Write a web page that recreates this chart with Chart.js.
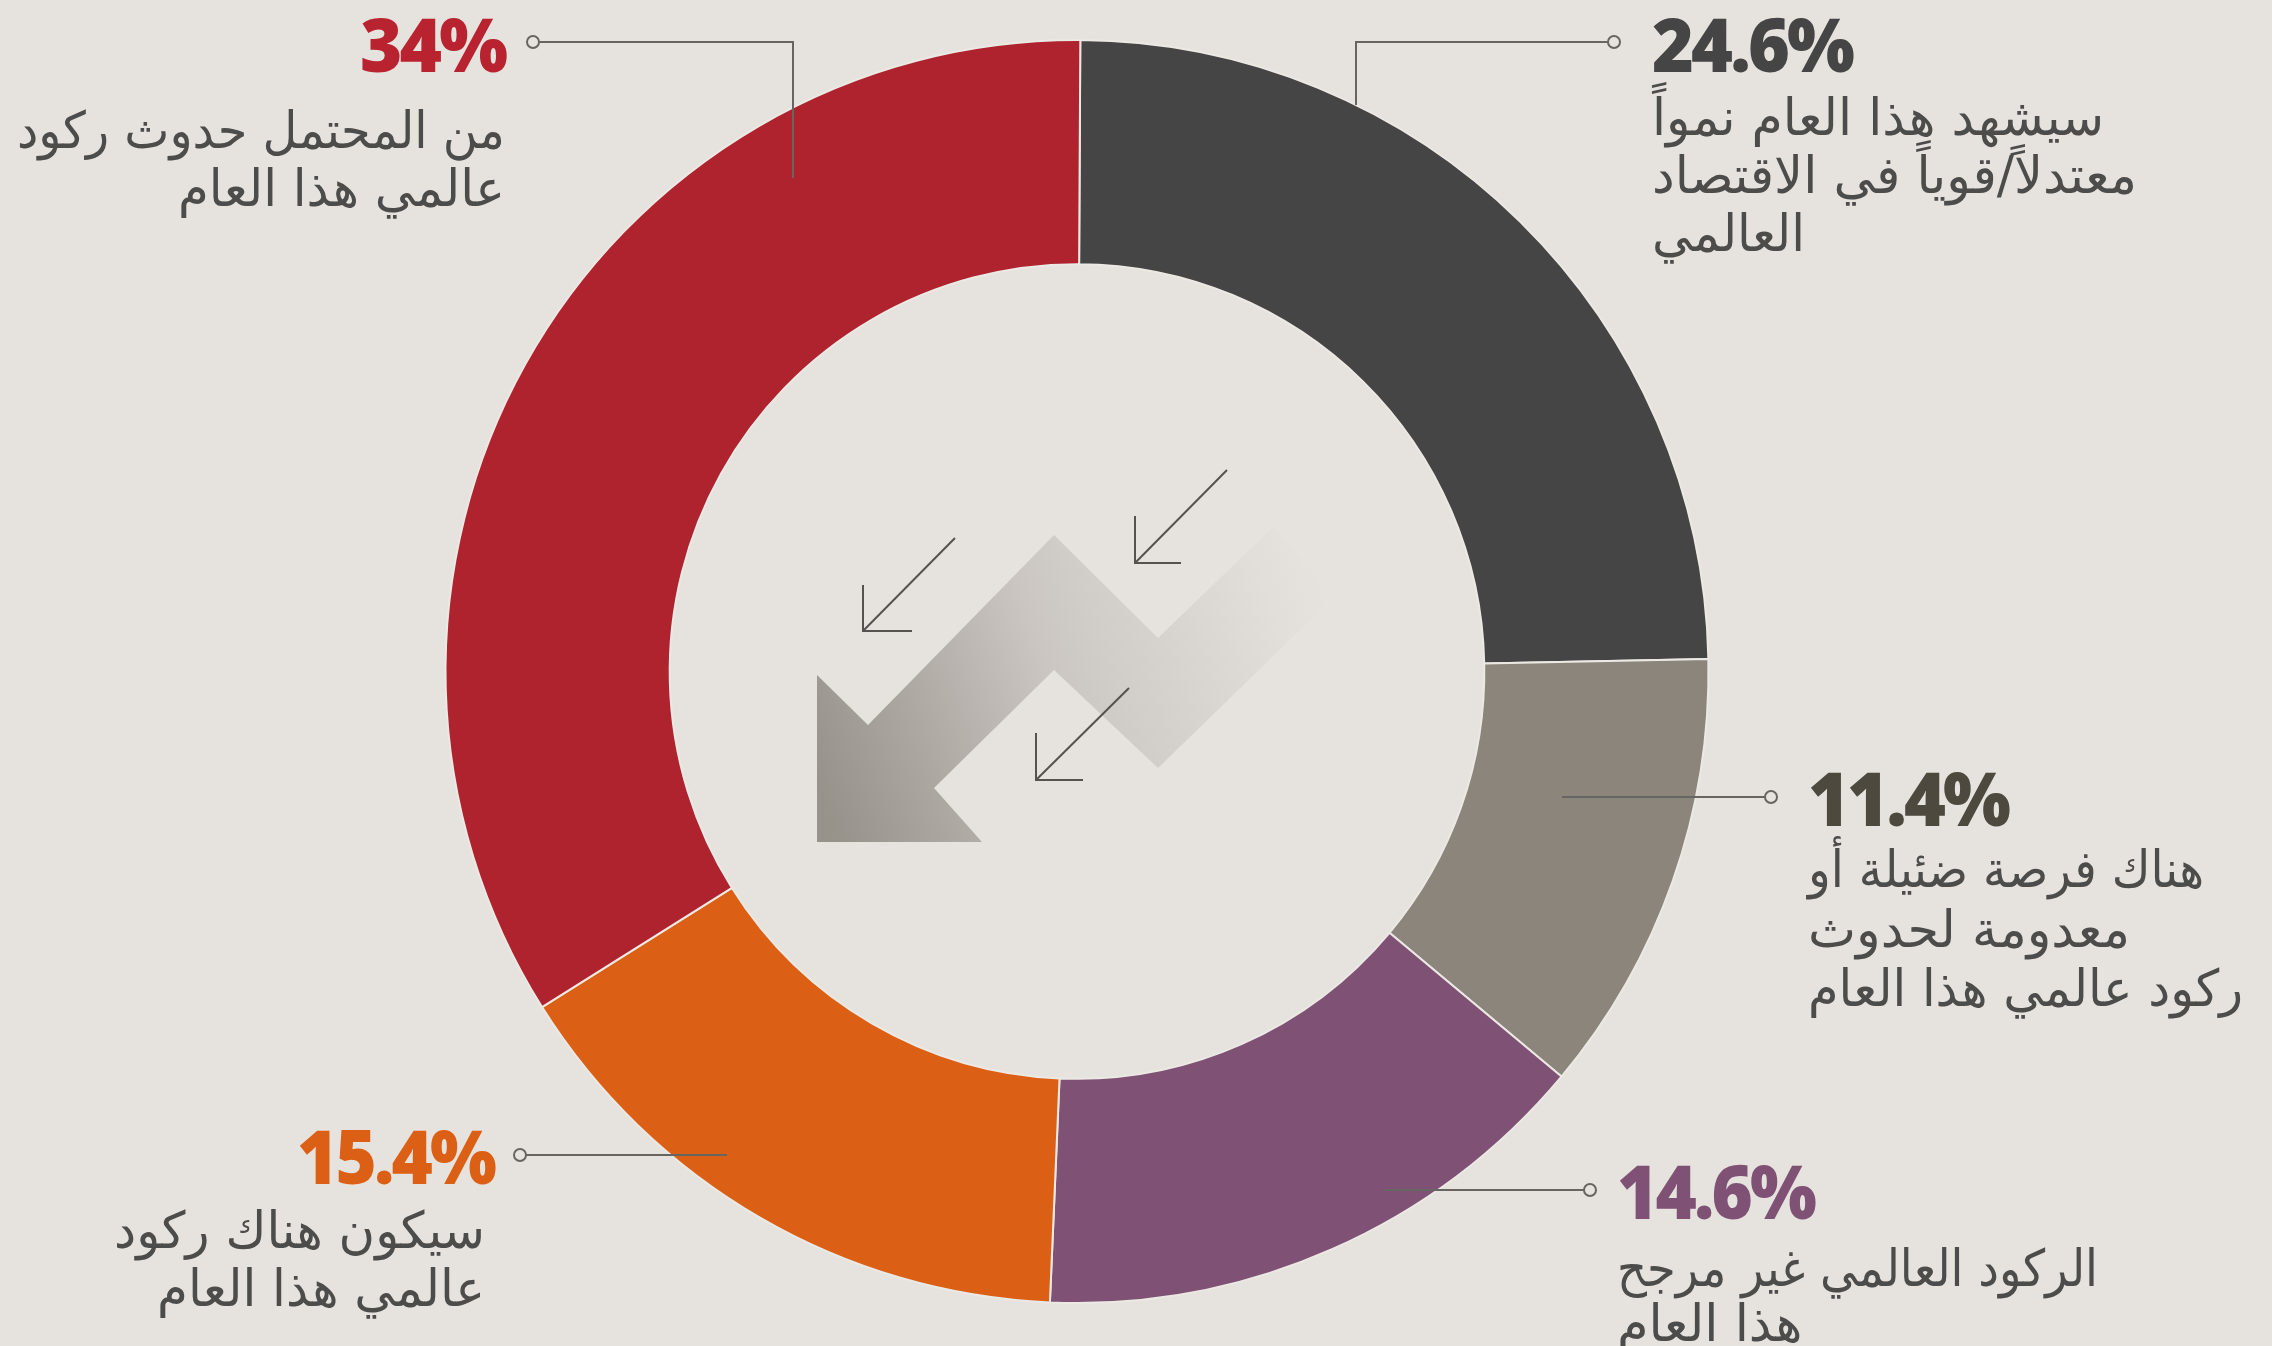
<!DOCTYPE html>
<html lang="ar"><head><meta charset="utf-8">
<style>html,body{margin:0;padding:0;background:#e6e3de;overflow:hidden}canvas{display:block}</style>
<script src="https://cdn.jsdelivr.net/npm/chart.js@4"></script>
</head><body>
<canvas id="c" width="2272" height="1346"></canvas>
<script>
const values = [24.6, 11.4, 14.6, 15.4, 34];
const valueLabels = ['24.6%', '11.4%', '14.6%', '15.4%', '34%'];
const sliceColors = ['#464545', '#8b857b', '#7f5275', '#db6015', '#ae232e'];
const numberColors = ['#464545', '#4d493f', '#7f5275', '#db6015', '#b8232f'];
const categories = [
  ['سيشهد هذا العام نمواً', 'معتدلاً/قوياً في الاقتصاد', 'العالمي'],
  ['هناك فرصة ضئيلة أو', 'معدومة لحدوث', 'ركود عالمي هذا العام'],
  ['الركود العالمي غير مرجح', 'هذا العام'],
  ['سيكون هناك ركود', 'عالمي هذا العام'],
  ['من المحتمل حدوث ركود', 'عالمي هذا العام']
];

// annotation layout (page pixels), same order as the series
const BG = '#e6e3de', INK = '#4c4c4a', RULE = '#666561';
const numberPos = [
  {x:1652,y:72,a:'left',w:200},{x:1808,y:826,a:'left',w:200},{x:1617,y:1219,a:'left',w:197},
  {x:494,y:1184,a:'right',w:197},{x:505,y:72,a:'right',w:145}
];
const linePos = [
  [{x:1652,y:120,w:452},{x:1652,y:178,w:485},{x:1652,y:236,w:153}],
  [{x:1808,y:872,w:396},{x:1808,y:932,w:322},{x:1808,y:991,w:435}],
  [{x:1617,y:1271,w:481},{x:1617,y:1326,w:190}],
  [{x:485,y:1233,w:371,a:'right'},{x:485,y:1291,w:328,a:'right'}],
  [{x:505,y:133,w:488,a:'right'},{x:505,y:191,w:327,a:'right'}]
];
const leaders = [
  [[1614,42],[1356,42],[1356,105]],
  [[1771,797],[1562,797]],
  [[1590,1190],[1384,1190]],
  [[520,1155],[727,1155]],
  [[533,42],[793,42],[793,178]]
];
const chevron = [[817,675],[868,725],[1054,535],[1158,638],[1273,527],[1334,597],[1158,768],[1054,670],[934,788],[982,842],[817,842]];
const smallArrows = [
  {from:[955,538],corner:[863,631],up:[863,585],right:[912,631]},
  {from:[1227,470],corner:[1135,563],up:[1135,516],right:[1181,563]},
  {from:[1129,688],corner:[1036,780],up:[1036,733],right:[1083,780]}
];

function path(ctx, pts){ctx.beginPath();pts.forEach((p,i)=>i?ctx.lineTo(p[0],p[1]):ctx.moveTo(p[0],p[1]));}

const annotations = {
  id:'annotations',
  afterDatasetsDraw(chart){
    const ctx = chart.ctx;
    ctx.save();
    // centre chevron
    const g = ctx.createLinearGradient(817,780,1330,600);
    g.addColorStop(0,'#97928a');g.addColorStop(0.2,'#aca7a1');g.addColorStop(0.47,'#cbc6c2');
    g.addColorStop(0.68,'#d6d3ce');g.addColorStop(0.9,'#e2dfda');g.addColorStop(1,BG);
    path(ctx,chevron);ctx.closePath();ctx.fillStyle=g;ctx.fill();
    ctx.strokeStyle='#55534f';ctx.lineWidth=2;
    smallArrows.forEach(a=>{
      path(ctx,[a.from,a.corner]);ctx.stroke();
      path(ctx,[a.up,a.corner,a.right]);ctx.stroke();
    });
    // leaders
    ctx.strokeStyle=RULE;ctx.lineWidth=2;
    leaders.forEach(l=>{
      path(ctx,l);ctx.stroke();
      ctx.beginPath();ctx.arc(l[0][0],l[0][1],6,0,Math.PI*2);ctx.fillStyle=BG;ctx.fill();ctx.stroke();
    });
    // texts
    ctx.textBaseline='alphabetic';
    values.forEach((v,i)=>{
      const n=numberPos[i];
      ctx.direction='ltr';ctx.textAlign=n.a;
      ctx.font='800 74px "Open Sans"';ctx.letterSpacing='-3px';
      ctx.fillStyle=numberColors[i];
      ctx.fillText(valueLabels[i],n.x,n.y,n.w);
      ctx.letterSpacing='0px';
      ctx.direction='rtl';ctx.font='51px "DejaVu Sans"';ctx.fillStyle=INK;
      categories[i].forEach((t,k)=>{
        const p=linePos[i][k];
        ctx.textAlign=p.a||'left';
        ctx.fillText(t,p.x,p.y+15,p.w);
      });
    });
    ctx.restore();
  }
};

new Chart(document.getElementById('c'),{
  type:'doughnut',
  data:{labels:categories.map(c=>c.join(' ')),datasets:[{data:values,backgroundColor:sliceColors,borderColor:'#ece9e4',borderWidth:2,hoverOffset:0}]},
  options:{
    responsive:false,animation:false,cutout:'64.5%',rotation:0.3,
    layout:{padding:{left:444.5,right:562.5,top:39,bottom:42}},
    plugins:{legend:{display:false},tooltip:{enabled:false}}
  },
  plugins:[{id:'bg',beforeDraw(ch){ch.ctx.save();ch.ctx.fillStyle=BG;ch.ctx.fillRect(0,0,ch.width,ch.height);ch.ctx.restore();}},annotations]
});
</script>
</body></html>
